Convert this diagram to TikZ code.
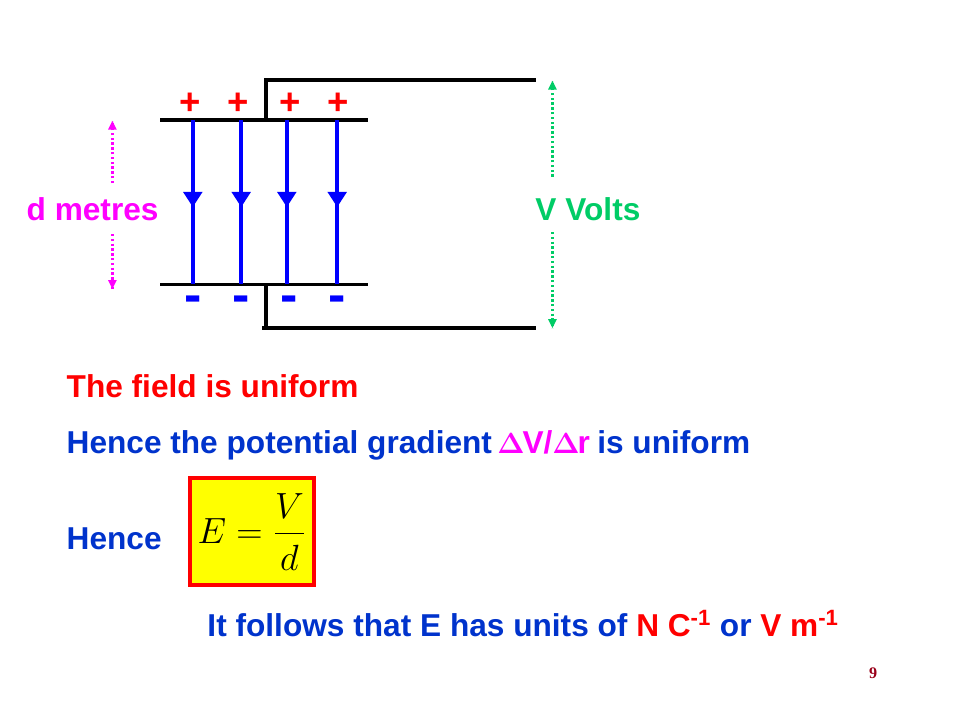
\documentclass[tikz,border=0pt]{standalone}
\usepackage{fontspec}
\usepackage{xcolor}
\setmainfont{Liberation Sans}
\newfontfamily\pagefont{Liberation Serif}
\usetikzlibrary{decorations.markings}
\usetikzlibrary{arrows.meta}
\definecolor{slideblue}{rgb}{0,0.2,0.8}
\definecolor{slidegreen}{rgb}{0,0.8,0.4}
\definecolor{slidepink}{rgb}{1,0,1}
\definecolor{slidered}{rgb}{1,0,0}
\definecolor{slideyellow}{rgb}{1,1,0}
\definecolor{pagered}{rgb}{0.6,0,0.1}
\tikzset{
	wire/.style={line width=0.09cm, color=black},
	fieldline/.style={line width=0.1cm, color=blue, postaction={decorate}, decoration={markings, mark=at position 0.53 with {\arrow{Triangle[length=0.38cm, width=0.46cm]}}}},
	gapline/.style={line width=0.06cm, dash pattern=on 0.06cm off 0.06cm},
	slidetext/.style={font=\fontsize{22.5}{27}\selectfont\bfseries, anchor=base west, inner sep=0pt},
	plussign/.style={font=\fontsize{26}{30}\selectfont\bfseries, color=slidered, inner sep=0pt},
	minussign/.style={font=\fontsize{37}{40}\selectfont\bfseries, color=blue, inner sep=0pt}
}

\begin{document}
\begin{tikzpicture}
	\useasboundingbox (0,0) rectangle (24,-18);

	% Plates
	\coordinate (topleft) at (4,-3);
	\coordinate (topright) at (9.2,-3);
	\coordinate (botleft) at (4,-7.11);
	\coordinate (botright) at (9.2,-7.11);
	\draw[wire] (topleft) -- (topright);
	\draw[wire] (botleft) -- (botright);

	% Wires to the supply
	\coordinate (topjoin) at (6.64,-3);
	\coordinate (topbend) at (6.64,-2);
	\coordinate (topend) at (13.4,-2);
	\coordinate (botjoin) at (6.64,-7.11);
	\coordinate (botbend) at (6.64,-8.19);
	\coordinate (botstart) at (6.55,-8.19);
	\coordinate (botend) at (13.4,-8.19);
	\draw[wire, line width=0.1cm] (topjoin) -- (topbend) -- (topend);
	\draw[wire, line width=0.1cm] (botjoin) -- (botbend);
	\draw[wire, line width=0.1cm] (botstart) -- (botend);

	% Field lines
	\coordinate (fieldtopa) at (4.82,-3);
	\coordinate (fieldbota) at (4.82,-7.11);
	\coordinate (fieldtopb) at (6.03,-3);
	\coordinate (fieldbotb) at (6.03,-7.11);
	\coordinate (fieldtopc) at (7.17,-3);
	\coordinate (fieldbotc) at (7.17,-7.11);
	\coordinate (fieldtopd) at (8.43,-3);
	\coordinate (fieldbotd) at (8.43,-7.11);
	\draw[fieldline] (fieldtopa) -- (fieldbota);
	\draw[fieldline] (fieldtopb) -- (fieldbotb);
	\draw[fieldline] (fieldtopc) -- (fieldbotc);
	\draw[fieldline] (fieldtopd) -- (fieldbotd);

	% Charges
	\node[plussign] (plusa) at (4.75,-2.6) {+};
	\node[plussign] (plusb) at (5.96,-2.6) {+};
	\node[plussign] (plusc) at (7.25,-2.6) {+};
	\node[plussign] (plusd) at (8.46,-2.6) {+};
	\node[minussign] (minusa) at (4.82,-7.6) {-};
	\node[minussign] (minusb) at (6.03,-7.6) {-};
	\node[minussign] (minusc) at (7.23,-7.6) {-};
	\node[minussign] (minusd) at (8.43,-7.6) {-};

	% Distance and voltage
	\node[slidetext, color=slidepink] (dlabel) at (0.66,-5.52) {d metres};
	\coordinate (dtopa) at (2.81,-4.58);
	\coordinate (dtopb) at (2.81,-3.02);
	\coordinate (dbota) at (2.81,-5.85);
	\coordinate (dbotb) at (2.81,-7.22);
	\draw[gapline, color=slidepink] (dtopa) -- (dtopb);
	\draw[gapline, color=slidepink] (dbota) -- (dbotb);
	\fill[color=slidepink] (dtopb) -- ++(-0.11,-0.22) -- ++(0.22,0) -- cycle;
	\fill[color=slidepink] (dbotb) -- ++(-0.11,0.22) -- ++(0.22,0) -- cycle;

	\node[slidetext, color=slidegreen] (vlabel) at (13.38,-5.52) {V Volts};
	\coordinate (vtopa) at (13.81,-4.42);
	\coordinate (vtopb) at (13.81,-2.02);
	\coordinate (vbota) at (13.81,-5.8);
	\coordinate (vbotb) at (13.81,-8.2);
	\draw[gapline, color=slidegreen] (vtopa) -- (vtopb);
	\draw[gapline, color=slidegreen] (vbota) -- (vbotb);
	\fill[color=slidegreen] (vtopb) -- ++(-0.11,-0.22) -- ++(0.22,0) -- cycle;
	\fill[color=slidegreen] (vbotb) -- ++(-0.11,0.22) -- ++(0.22,0) -- cycle;

	% Text
	\node[slidetext, color=slidered] (uniform) at (1.66,-9.93) {The field is uniform};
	\node[slidetext, color=slideblue] (gradient) at (1.66,-11.33) {Hence the potential gradient\hspace{-2.5pt} {\color{slidepink}\boldmath$\Delta$\hspace{-1.5pt}V/$\Delta$\hspace{-1.5pt}r}\hspace{-1pt} is uniform};
	\node[slidetext, color=slideblue] (hence) at (1.66,-13.73) {Hence};

	% Formula
	\node[draw=slidered, fill=slideyellow, line width=0.1cm, minimum width=3.1cm, minimum height=2.68cm, inner sep=0pt] (formula) at (6.3,-13.29) {\scalebox{1.5}{\LARGE $\displaystyle E=\frac{\rule{0pt}{12.2pt}V}{\rule{0pt}{16pt}d}$}};

	\node[slidetext, color=slideblue] (units) at (5.18,-15.91) {It follows that E has units of {\color{slidered}N C\textsuperscript{-1}} or {\color{slidered}V m\textsuperscript{-1}}};

	\node[font=\pagefont\fontsize{11.5}{14}\selectfont\bfseries, color=pagered, inner sep=0pt] (pagenum) at (21.83,-16.83) {9};
\end{tikzpicture}
\end{document}
